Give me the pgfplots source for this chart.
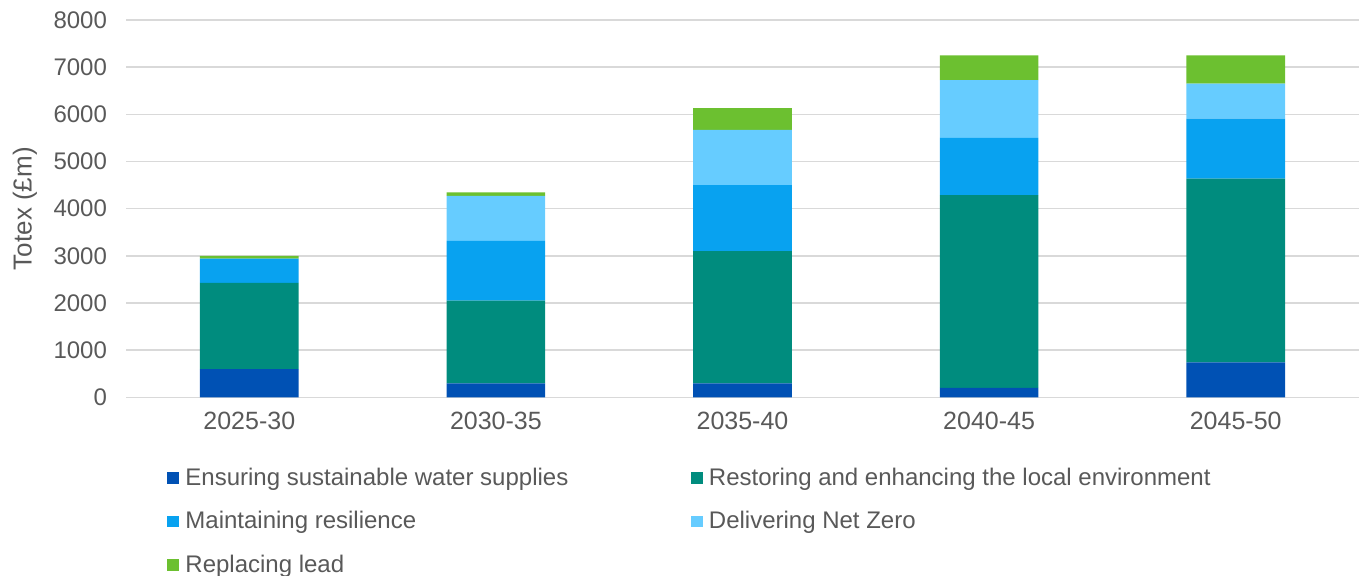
\documentclass[border=0pt]{standalone}
\usepackage{fontspec}
\setmainfont{Liberation Sans}
\usepackage{pgfplots}
\pgfplotsset{compat=1.18}

\definecolor{cSupply}{RGB}{0,81,180}
\definecolor{cEnv}{RGB}{0,140,126}
\definecolor{cResil}{RGB}{8,162,240}
\definecolor{cNetZero}{RGB}{102,204,255}
\definecolor{cLead}{RGB}{108,192,48}
\definecolor{txt}{RGB}{89,89,89}
\definecolor{gridgray}{RGB}{217,217,217}

\begin{document}
\begin{tikzpicture}
\useasboundingbox (0,0) rectangle (680pt,287.5pt);
\begin{axis}[
  at={(63pt,88.8pt)}, anchor=south west,
  scale only axis,
  width=616.5pt, height=188.7pt,
  ybar stacked,
  bar width=0.4,
  xmin=-0.5, xmax=4.5,
  ymin=0, ymax=8000,
  ytick={0,1000,...,8000},
  xtick=data,
  xticklabels={2025-30,2030-35,2035-40,2040-45,2045-50},
  axis line style={draw=none},
  xtick style={draw=none},
  ytick style={draw=none},
  xmajorgrids=false,
  ymajorgrids=true,
  major grid style={draw=gridgray, line width=0.75pt},
  tick label style={text=txt},
  yticklabel style={font=\fontsize{12}{14}\selectfont, xshift=-6pt},
  xticklabel style={font=\fontsize{12.5}{14}\selectfont, yshift=-4pt},
  /pgf/number format/assume math mode=true,
  /pgf/number format/1000 sep={},
  ylabel={Totex (£m)},
  ylabel style={text=txt, font=\fontsize{13}{15}\selectfont,
    at={(axis description cs:-0.082,0.5)}, anchor=center},
  legend columns=2,
  legend cell align=left,
  legend style={
    at={(0.0333,-0.175)}, anchor=north west,
    draw=none, inner sep=0pt, text=txt,
    font=\fontsize{12}{14}\selectfont,
    /tikz/every odd column/.style={column sep=1.2pt},
    /tikz/column 2/.style={column sep=59.3pt},
    row sep=7.5pt,
  },
  legend image code/.code={\fill[#1] (0pt,-2.9pt) rectangle (5.8pt,2.9pt);},
]
\addplot[fill=cSupply, draw=none] coordinates {(0,600) (1,300) (2,300) (3,200) (4,740)};
\addplot[fill=cEnv, draw=none] coordinates {(0,1830) (1,1750) (2,2800) (3,4090) (4,3900)};
\addplot[fill=cResil, draw=none] coordinates {(0,510) (1,1270) (2,1400) (3,1210) (4,1270)};
\addplot[fill=cNetZero, draw=none] coordinates {(0,0) (1,950) (2,1170) (3,1225) (4,740)};
\addplot[fill=cLead, draw=none] coordinates {(0,60) (1,75) (2,460) (3,525) (4,600)};
\legend{Ensuring sustainable water supplies, Restoring and enhancing the local environment, Maintaining resilience, Delivering Net Zero, Replacing lead}
\end{axis}
\end{tikzpicture}
\end{document}
